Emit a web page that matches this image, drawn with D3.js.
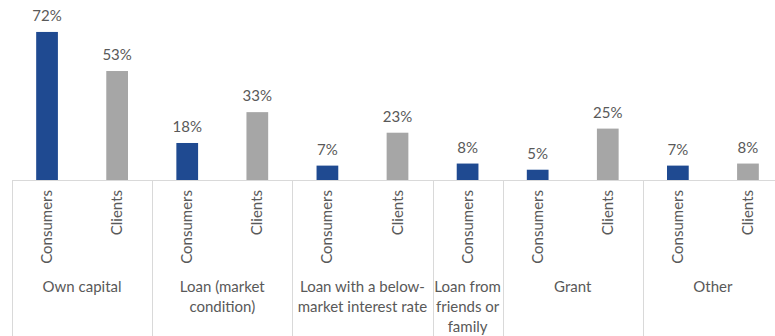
<!DOCTYPE html>
<html>
<head>
<meta charset="utf-8">
<script src="https://cdn.jsdelivr.net/npm/d3@7"></script>
<style>
  body { margin: 0; background: #fff; }
  svg { display: block; font-family: Lato, "Open Sans", sans-serif; }
</style>
</head>
<body>
<div id="chart"></div>
<script>
// groups, each split into lines as in the picture
const groupLines = [
    ["Own capital"],
    ["Loan (market", "condition)"],
    ["Loan with a below-", "market interest rate"],
    ["Loan from", "friends or", "family"],
    ["Grant"],
    ["Other"]
];
const seriesNames = ["Consumers", "Clients"];
const consumers = [72, 18, 7, 8, 5, 7];
const clients = [53, 33, 23, null, 25, 8];

const width = 775,
    height = 336;
const baseY = 180;

// flatten into slots (groups with missing values get fewer slots)
const slots = [];
groupLines.forEach((g, gi) => {
    [consumers[gi], clients[gi]].forEach((v, si) => {
        if (v == null) return;
        slots.push({ id: gi + "-" + si, group: gi, series: si, value: v });
    });
});

const svg = d3.select("#chart")
    .append("svg")
    .attr("width", width)
    .attr("height", height);

const x = d3.scaleBand()
    .domain(slots.map(d => d.id))
    .range([12, 783])
    .padding(0);

const y = d3.scaleLinear()
    .domain([0, 80])
    .range([baseY, baseY - 164.5]);

const colors = ["#1f4a91", "#a6a6a6"];
const barW = x.bandwidth() * 0.31;

// bars
svg.selectAll("rect.bar")
    .data(slots)
    .enter()
    .append("rect")
    .attr("class", "bar")
    .attr("x", d => x(d.id) + (x.bandwidth() - barW) / 2)
    .attr("y", d => y(d.value))
    .attr("width", barW)
    .attr("height", d => y(0) - y(d.value))
    .attr("fill", d => colors[d.series]);

// value labels
svg.selectAll("text.val")
    .data(slots)
    .enter()
    .append("text")
    .attr("class", "val")
    .attr("x", d => x(d.id) + x.bandwidth() / 2)
    .attr("y", d => y(d.value) - 11)
    .attr("text-anchor", "middle")
    .attr("font-size", 15)
    .attr("fill", "#595959")
    .text(d => d.value + "%");

// axis line
svg.append("line")
    .attr("x1", 12).attr("x2", 783)
    .attr("y1", baseY + 0.5).attr("y2", baseY + 0.5)
    .attr("stroke", "#d9d9d9");

// group separators
const groupInfo = groupLines.map((lines, gi) => {
    const s = slots.filter(d => d.group === gi);
    const x0 = x(s[0].id);
    const x1 = x(s[s.length - 1].id) + x.bandwidth();
    return { lines: lines, x0: x0, x1: x1 };
});

const seps = [groupInfo[0].x0].concat(groupInfo.map(g => g.x1));
svg.selectAll("line.sep")
    .data(seps)
    .enter()
    .append("line")
    .attr("class", "sep")
    .attr("x1", d => Math.round(d) + 0.5)
    .attr("x2", d => Math.round(d) + 0.5)
    .attr("y1", baseY)
    .attr("y2", height)
    .attr("stroke", "#d9d9d9");

// series labels, rotated
svg.selectAll("text.cat")
    .data(slots)
    .enter()
    .append("text")
    .attr("class", "cat")
    .attr("transform", d => `translate(${x(d.id) + x.bandwidth() / 2 + 5},190) rotate(-90)`)
    .attr("text-anchor", "end")
    .attr("font-size", 15)
    .attr("fill", "#595959")
    .text(d => seriesNames[d.series]);

// group labels
const gl = svg.selectAll("text.grp")
    .data(groupInfo)
    .enter()
    .append("text")
    .attr("class", "grp")
    .attr("text-anchor", "middle")
    .attr("font-size", 15)
    .attr("fill", "#595959");

gl.selectAll("tspan")
    .data(g => g.lines.map((t, i) => ({ t: t, i: i, cx: (g.x0 + g.x1) / 2 })))
    .enter()
    .append("tspan")
    .attr("x", d => d.cx)
    .attr("y", d => 292 + d.i * 20)
    .text(d => d.t);
</script>
</body>
</html>
